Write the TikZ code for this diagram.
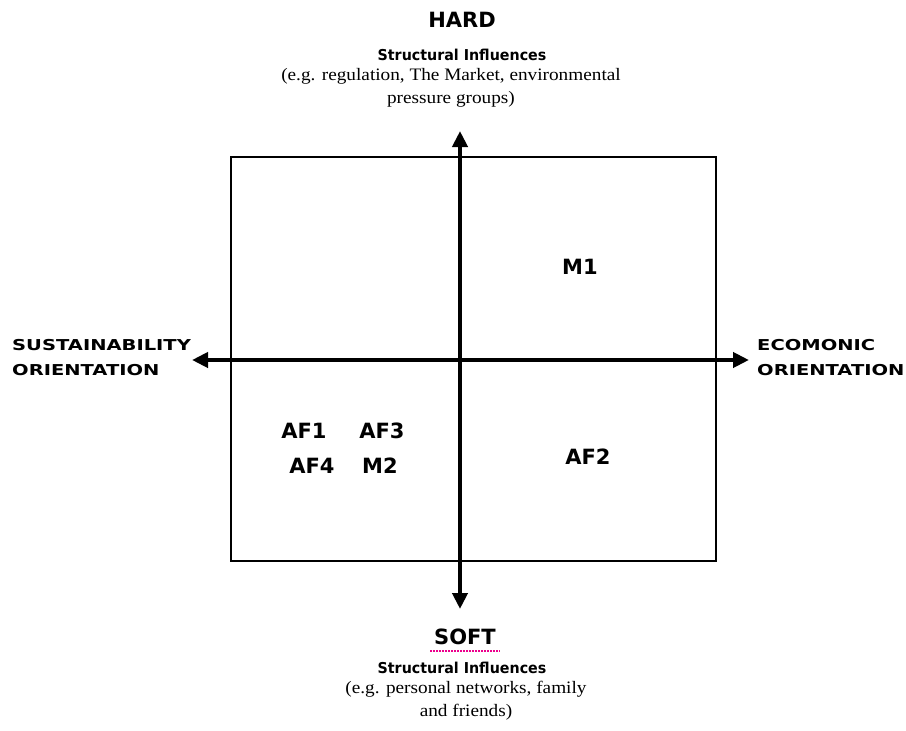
\documentclass[tikz,border=0pt]{standalone}
\usepackage{fontspec}
\setmainfont[FakeStretch=1.1]{Liberation Serif}
\newfontfamily\lblfont{DejaVu Sans}
\newfontfamily\widefont[FakeStretch=1.3]{DejaVu Sans}
\newfontfamily\midfont[FakeStretch=0.95]{DejaVu Sans}
\usetikzlibrary{arrows.meta}
\begin{document}
\begin{tikzpicture}[x=1pt,y=-1pt,
  axis/.style={line width=4pt,-{Triangle[length=16pt,width=15pt]}},
  box/.style={line width=2pt},
  lbl/.style={font=\lblfont\bfseries\fontsize{21}{24}\selectfont, inner sep=0pt},
  big/.style={font=\lblfont\bfseries\fontsize{21}{22}\selectfont, inner sep=0pt},
  mid/.style={font=\midfont\bfseries\fontsize{15}{16}\selectfont, inner sep=0pt},
  ser/.style={font=\fontsize{17.5}{23}\selectfont, inner sep=0pt, align=center},
  side/.style={font=\widefont\bfseries\fontsize{15}{25}\selectfont, inner sep=0pt, align=left}]
\useasboundingbox (0,0) rectangle (906,731);
\draw[box] (231,157) rectangle (716,561);
\coordinate (c) at (460,360);
\coordinate (top) at (460,131);
\coordinate (bot) at (460,609);
\coordinate (left) at (192,360);
\coordinate (right) at (749,360);
\draw[axis] (c) -- (top);
\draw[axis] (c) -- (bot);
\draw[axis] (c) -- (left);
\draw[axis] (c) -- (right);
% top texts
\node[big] (hard) at (462,20) {HARD};
\node[mid] (si1) at (462,55) {Structural Influences};
\node[ser,anchor=north] (eg1) at (451,68) {(e.g. regulation, The Market, environmental\\pressure groups)};
% side labels
\node[side,anchor=west] (sust) at (12,358) {SUSTAINABILITY\\ORIENTATION};
\node[side,anchor=west] (econ) at (757,358) {ECOMONIC\\ORIENTATION};
% quadrant labels
\node[lbl] (m1) at (580,267) {M1};
\node[lbl] (af1) at (304,431) {AF1};
\node[lbl] (af3) at (382,431) {AF3};
\node[lbl] (af4) at (312,466) {AF4};
\node[lbl] (m2) at (380,466) {M2};
\node[lbl] (af2) at (588,457) {AF2};
% bottom texts
\node[big] (soft) at (465,637) {SOFT};
\draw[magenta, line width=1.5pt, dash pattern=on 1.5pt off 1.5pt] (430,651) -- (500,651);
\node[mid] (si2) at (462,668) {Structural Influences};
\node[ser,anchor=north] (eg2) at (466,681) {(e.g. personal networks, family\\and friends)};
\end{tikzpicture}
\end{document}
